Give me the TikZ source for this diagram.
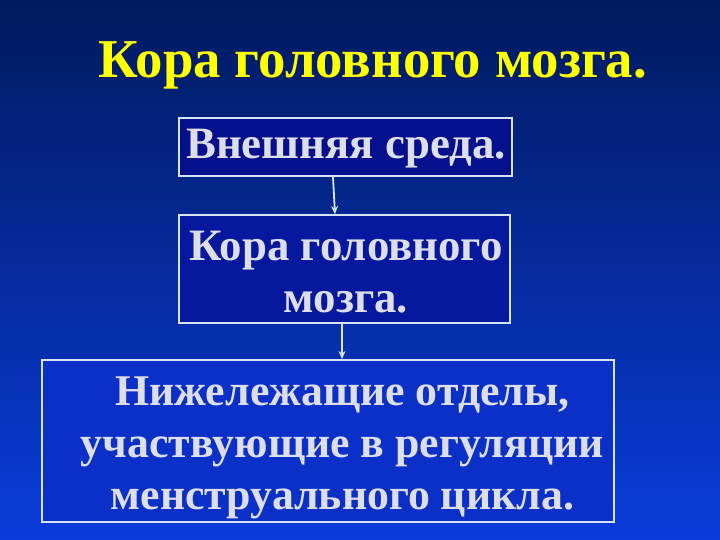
\documentclass[tikz,border=0pt]{standalone}
\usepackage{fontspec}
\setmainfont{Liberation Serif}
\usetikzlibrary{arrows.meta}
\definecolor{bgtop}{HTML}{001A5E}
\definecolor{bgbot}{HTML}{0A3CDC}
\definecolor{boxtxt}{HTML}{DEDEE8}
\definecolor{boxline}{HTML}{D8E4F4}
\definecolor{titleyel}{HTML}{FFFF00}
\tikzset{
  box/.style={draw=boxline, line width=2bp, inner sep=0pt},
  boxtext/.style={inner sep=0pt, align=center, text=boxtxt,
    font=\bfseries\fontsize{45}{52}\selectfont},
  arr/.style={draw=boxline, line width=1.8bp, -{Stealth[length=8bp,width=7bp]}},
}
\begin{document}
\begin{tikzpicture}[x=1bp,y=-1bp]
\shade[top color=bgtop, bottom color=bgbot] (0,0) rectangle (720,540);
\useasboundingbox (0,0) rectangle (720,540);
\node[text=titleyel, font=\bfseries\fontsize{55}{60}\selectfont, anchor=base] (title) at (373,78) {Кора головного мозга.};
\node[box, fill={rgb,255:red,4;green,16;blue,140}, minimum width=333bp, minimum height=58bp] (b1) at (345.5,147) {};
\node[box, fill={rgb,255:red,6;green,24;blue,158}, minimum width=331bp, minimum height=108bp] (b2) at (344.5,269) {};
\node[box, fill={rgb,255:red,10;green,48;blue,200}, minimum width=572bp, minimum height=162bp] (b3) at (328,441) {};
\node[boxtext] (t1) at (346,148.5) {Внешняя среда.};
\node[boxtext] (t2) at (346,272) {Кора головного\\мозга.};
\node[boxtext, font=\bfseries\fontsize{44}{52}\selectfont] (t3) at (342.5,448) {Нижележащие отделы,\\участвующие в регуляции\\менструального цикла.};
\draw[arr] ([xshift=-12.5bp]b1.south) -- ([xshift=-9.5bp]b2.north);
\draw[arr] ([xshift=-2.5bp]b2.south) -- ([xshift=14bp]b3.north);
\end{tikzpicture}
\end{document}
